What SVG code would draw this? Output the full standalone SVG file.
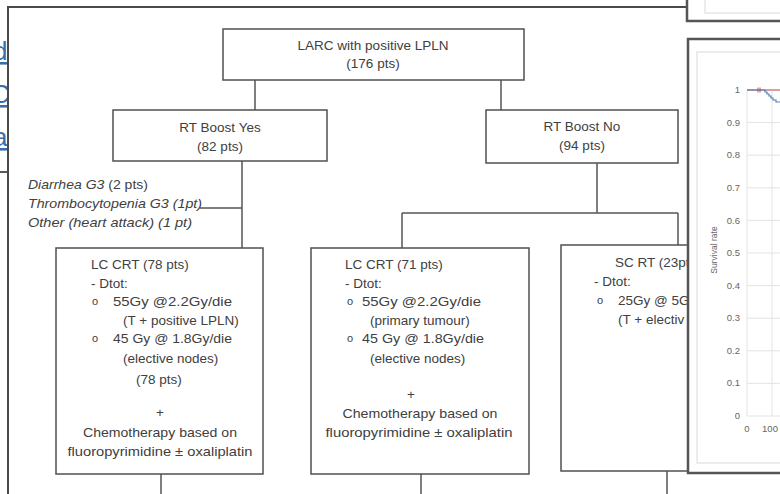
<svg xmlns="http://www.w3.org/2000/svg" width="780" height="494" viewBox="0 0 780 494">
<defs>
<style>
.box{fill:#fff;stroke:#505050;stroke-width:1.5}
.ln{fill:none;stroke:#555;stroke-width:1.5}
.t{font-family:"Liberation Sans",Arial,sans-serif;font-size:13.5px;fill:#404040}
.c{text-anchor:middle}
.it{font-style:italic}
.b{font-size:11px}
.lnk{font-family:"Liberation Sans",Arial,sans-serif;font-size:26px;fill:#3a6ea8;text-decoration:underline}
.ax{font-family:"Liberation Sans",Arial,sans-serif;font-size:9.5px;fill:#666;text-anchor:end}
.grid{stroke:#e3e3e3;stroke-width:1}
</style>
<clipPath id="leftclip"><rect x="0" y="0" width="8" height="494"/></clipPath>
<clipPath id="scclip"><rect x="550" y="230" width="138" height="264"/></clipPath>
</defs>
<rect width="780" height="494" fill="#fff"/>

<g id="links" clip-path="url(#leftclip)">
<text class="lnk" x="-7" y="60">d</text>
<text class="lnk" x="-9" y="103">C</text>
<text class="lnk" x="-7" y="146">a</text>
</g>
<line x1="0" y1="172" x2="8" y2="172" stroke="#222" stroke-width="1.5"/>

<g id="frame">
<path d="M8,494 V7 H687" fill="none" stroke="#4a4a4a" stroke-width="2"/>
</g>

<g id="connectors" class="ln">
<path d="M255,80 V110"/>
<path d="M501,80 V110"/>
<path d="M242,161 V248"/>
<path d="M200,208 H242"/>
<path d="M597,163 V213"/>
<path d="M402,213 H678"/>
<path d="M402,213 V248"/>
<path d="M678,213 V245"/>
<path d="M161,474 V494"/>
<path d="M421,474 V494"/>
<path d="M667,471 V494"/>
</g>

<g id="larc">
<rect class="box" x="223" y="29" width="301" height="51"/>
<text class="t c" x="373" y="50" textLength="151" lengthAdjust="spacingAndGlyphs">LARC with positive LPLN</text>
<text class="t c" x="373" y="68">(176 pts)</text>
</g>

<g id="boost-yes">
<rect class="box" x="113" y="110" width="214" height="51"/>
<text class="t c" x="220" y="132">RT Boost Yes</text>
<text class="t c" x="220" y="151">(82 pts)</text>
</g>

<g id="boost-no">
<rect class="box" x="486" y="110" width="192" height="53"/>
<text class="t c" x="582" y="131">RT Boost No</text>
<text class="t c" x="582" y="150">(94 pts)</text>
</g>

<g id="toxicity">
<text class="t" x="28" y="189" textLength="120" lengthAdjust="spacingAndGlyphs"><tspan class="it">Diarrhea G3</tspan> (2 pts)</text>
<text class="t it" x="28" y="208" textLength="174" lengthAdjust="spacingAndGlyphs">Thrombocytopenia G3 (1pt)</text>
<text class="t it" x="28" y="227" textLength="164" lengthAdjust="spacingAndGlyphs">Other (heart attack) (1 pt)</text>
</g>

<g id="lccrt-yes">
<rect class="box" x="56" y="248" width="207" height="226"/>
<text class="t" x="91" y="269">LC CRT (78 pts)</text>
<text class="t" x="91" y="288">- Dtot:</text>
<text class="t b" x="92" y="305">o</text>
<text class="t" x="113" y="306" textLength="119" lengthAdjust="spacingAndGlyphs">55Gy @2.2Gy/die</text>
<text class="t" x="123" y="325">(T + positive LPLN)</text>
<text class="t b" x="92" y="342">o</text>
<text class="t" x="113" y="343" textLength="119" lengthAdjust="spacingAndGlyphs">45 Gy @ 1.8Gy/die</text>
<text class="t" x="123" y="363">(elective nodes)</text>
<text class="t" x="136" y="384">(78 pts)</text>
<text class="t c" x="160" y="417">+</text>
<text class="t c" x="160" y="437" textLength="154" lengthAdjust="spacingAndGlyphs">Chemotherapy based on</text>
<text class="t c" x="160" y="456" textLength="185" lengthAdjust="spacingAndGlyphs">fluoropyrimidine ± oxaliplatin</text>
</g>

<g id="lccrt-no">
<rect class="box" x="311" y="248" width="218" height="226"/>
<text class="t" x="345" y="269">LC CRT (71 pts)</text>
<text class="t" x="345" y="288">- Dtot:</text>
<text class="t b" x="347" y="305">o</text>
<text class="t" x="362" y="306" textLength="119" lengthAdjust="spacingAndGlyphs">55Gy @2.2Gy/die</text>
<text class="t" x="370" y="325">(primary tumour)</text>
<text class="t b" x="347" y="342">o</text>
<text class="t" x="362" y="343" textLength="122" lengthAdjust="spacingAndGlyphs">45 Gy @ 1.8Gy/die</text>
<text class="t" x="370" y="363">(elective nodes)</text>
<text class="t c" x="411" y="399">+</text>
<text class="t c" x="420" y="418" textLength="155" lengthAdjust="spacingAndGlyphs">Chemotherapy based on</text>
<text class="t c" x="419" y="437" textLength="187" lengthAdjust="spacingAndGlyphs">fluoropyrimidine ± oxaliplatin</text>
</g>

<g id="scrt" clip-path="url(#scclip)">
<rect class="box" x="561" y="245" width="200" height="226"/>
<text class="t" x="615" y="267">SC RT (23pt</text>
<text class="t" x="594" y="286">- Dtot:</text>
<text class="t b" x="597" y="304">o</text>
<text class="t" x="618" y="305">25Gy @ 5G</text>
<text class="t" x="618" y="324">(T + electiv</text>
</g>

<g id="top-panel">
<rect x="687" y="-10" width="110" height="31" fill="#fff" stroke="#555" stroke-width="2.5"/>
<rect x="705" y="-10" width="90" height="23" fill="none" stroke="#e6e6e6" stroke-width="1.5"/>
</g>

<g id="chart-panel">
<rect x="688" y="39" width="110" height="434" fill="#fff" stroke="#555" stroke-width="2.5"/>
<rect x="697" y="52" width="100" height="411" fill="none" stroke="#e6e6e6" stroke-width="1.5"/>
<g class="grid">
<line x1="747" y1="90" x2="780" y2="90"/>
<line x1="747" y1="122.6" x2="780" y2="122.6"/>
<line x1="747" y1="155.2" x2="780" y2="155.2"/>
<line x1="747" y1="187.8" x2="780" y2="187.8"/>
<line x1="747" y1="220.4" x2="780" y2="220.4"/>
<line x1="747" y1="253" x2="780" y2="253"/>
<line x1="747" y1="285.6" x2="780" y2="285.6"/>
<line x1="747" y1="318.2" x2="780" y2="318.2"/>
<line x1="747" y1="350.8" x2="780" y2="350.8"/>
<line x1="747" y1="383.4" x2="780" y2="383.4"/>
<line x1="747" y1="416" x2="780" y2="416"/>
<line x1="747" y1="90" x2="747" y2="416"/>
<line x1="772" y1="90" x2="772" y2="416"/>
</g>
<text class="ax" x="740" y="93">1</text>
<text class="ax" x="740" y="126">0.9</text>
<text class="ax" x="740" y="158">0.8</text>
<text class="ax" x="740" y="191">0.7</text>
<text class="ax" x="740" y="224">0.6</text>
<text class="ax" x="740" y="256">0.5</text>
<text class="ax" x="740" y="289">0.4</text>
<text class="ax" x="740" y="321">0.3</text>
<text class="ax" x="740" y="354">0.2</text>
<text class="ax" x="740" y="386">0.1</text>
<text class="ax" x="740" y="419">0</text>
<text class="ax" x="747" y="432" style="text-anchor:middle">0</text>
<text class="ax" x="770" y="432" style="text-anchor:middle">100</text>
<text class="ax" x="717" y="250" style="text-anchor:middle;font-size:8.5px" transform="rotate(-90 717 250)">Survival rate</text>
<path d="M747,90 H780" fill="none" stroke="#c0504d" stroke-width="1.2"/>
<path d="M758,87.5 V92.5 M760,87.5 V92.5" stroke="#c0504d" stroke-width="1"/>
<path d="M747,90 H765 V92 H767 V94 H769 V96 H771 V98 H773 V100 H776 V102 H780" fill="none" stroke="#4f81bd" stroke-width="1.2"/>
</g>
</svg>
